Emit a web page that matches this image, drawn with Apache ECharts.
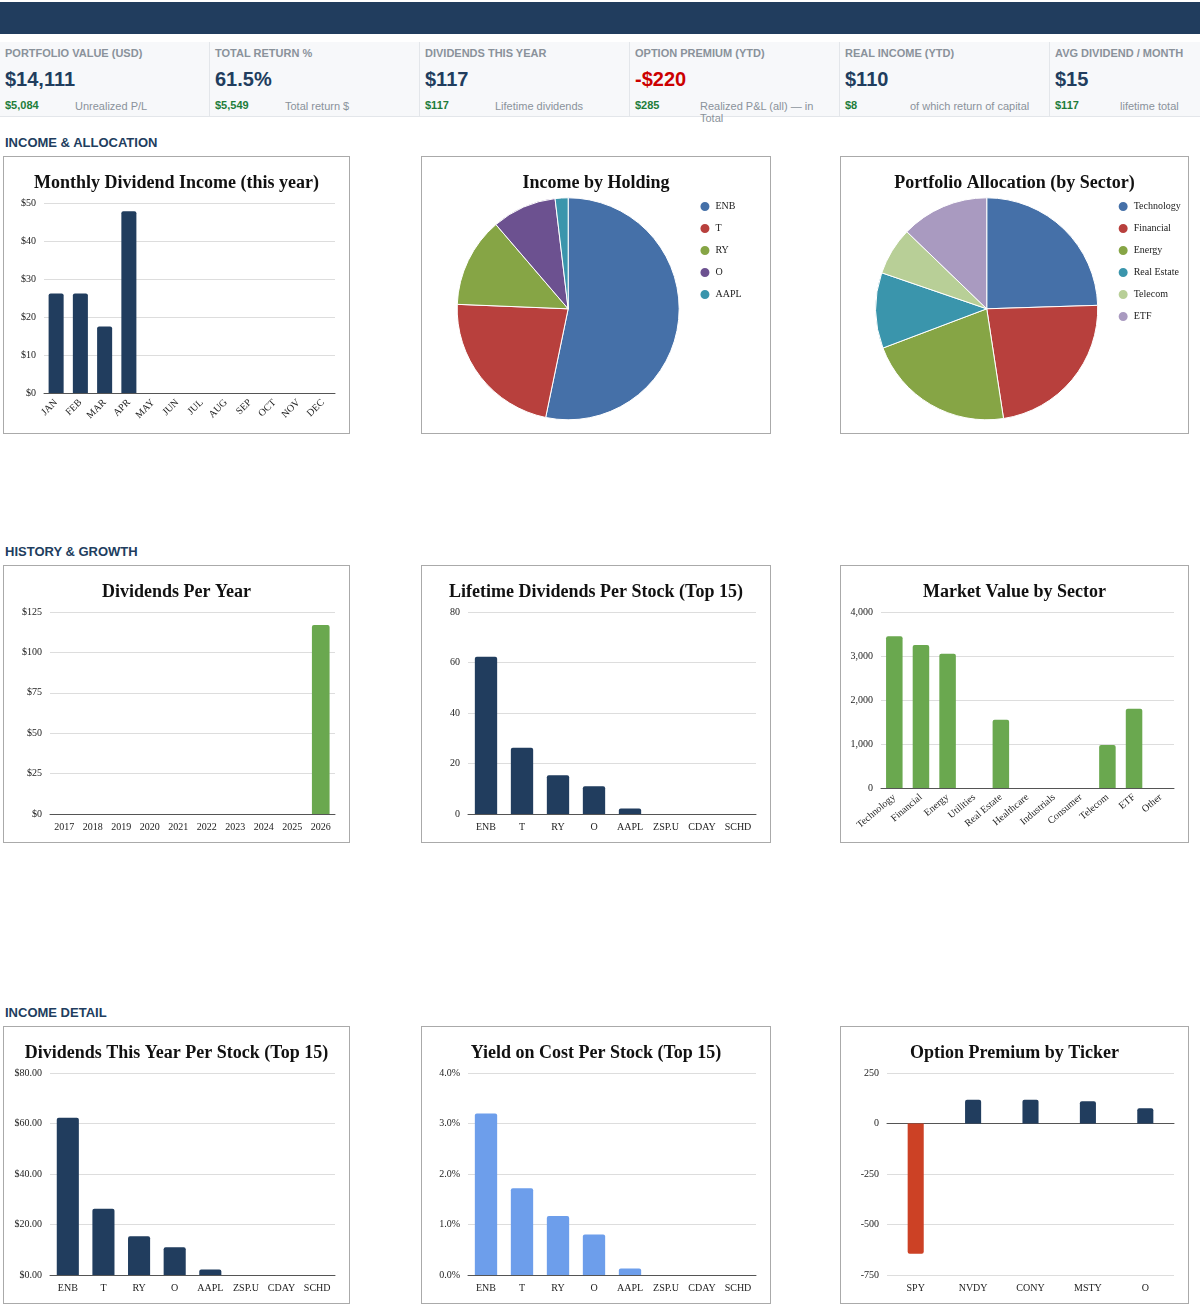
<!DOCTYPE html>
<html><head><meta charset="utf-8">
<script src="https://cdn.jsdelivr.net/npm/echarts@6/dist/echarts.min.js"></script>
<style>
body{margin:0;width:1200px;height:1314px;position:relative;background:#fff;font-family:"Liberation Sans",Arial,sans-serif;overflow:hidden}
.hdr{position:absolute;left:0;top:2px;width:1200px;height:32px;background:#213d5e}
.kpis{position:absolute;left:0;top:42px;width:1200px;height:74px;background:#f7f8fa;border-bottom:1px solid #e3e6ea}
.kpi{position:absolute;top:0;height:74px;width:209px;border-right:1px solid #e3e6ea}
.kpi .l{position:absolute;left:5px;top:5px;font-size:11px;color:#8a929b;font-weight:bold}
.kpi .v{position:absolute;left:5px;top:26px;font-size:20px;font-weight:bold;color:#213d5e}
.kpi .s{position:absolute;left:5px;top:57px;font-size:11px;font-weight:bold;color:#1e7d3a}
.kpi .n{position:absolute;top:58px;font-size:11px;color:#8a929b}
.sec{position:absolute;left:5px;font-size:13px;font-weight:bold;color:#213d5e}
.box{position:absolute;border:1px solid #aaa;box-sizing:border-box}
</style></head><body>
<div class="hdr"></div>
<div class="kpis" id="kpis"></div>
<div class="sec" style="top:135px">INCOME &amp; ALLOCATION</div>
<div class="sec" style="top:544px">HISTORY &amp; GROWTH</div>
<div class="sec" style="top:1005px">INCOME DETAIL</div>
<div id="c0" class="box" style="left:3px;top:156px;width:347px;height:278px"></div>
<div id="c1" class="box" style="left:421px;top:156px;width:350px;height:278px"></div>
<div id="c2" class="box" style="left:840px;top:156px;width:349px;height:278px"></div>
<div id="c3" class="box" style="left:3px;top:565px;width:347px;height:278px"></div>
<div id="c4" class="box" style="left:421px;top:565px;width:350px;height:278px"></div>
<div id="c5" class="box" style="left:840px;top:565px;width:349px;height:278px"></div>
<div id="c6" class="box" style="left:3px;top:1026px;width:347px;height:278px"></div>
<div id="c7" class="box" style="left:421px;top:1026px;width:350px;height:278px"></div>
<div id="c8" class="box" style="left:840px;top:1026px;width:349px;height:278px"></div>
<script>
// KPI cards
const kpiLabels = ['PORTFOLIO VALUE (USD)', 'TOTAL RETURN %', 'DIVIDENDS THIS YEAR', 'OPTION PREMIUM (YTD)', 'REAL INCOME (YTD)', 'AVG DIVIDEND / MONTH'];
const kpiValues = ['$14,111', '61.5%', '$117', '-$220', '$110', '$15'];
const kpiSubs = ['$5,084', '$5,549', '$117', '$285', '$8', '$117'];
const kpiNotes = ['Unrealized P/L', 'Total return $', 'Lifetime dividends', 'Realized P&L (all) \u2014 in Total', 'of which return of capital', 'lifetime total'];
const kpiNoteX = [75, 75, 75, 70, 70, 70];

// chart data
const months = ['JAN','FEB','MAR','APR','MAY','JUN','JUL','AUG','SEP','OCT','NOV','DEC'];
const monthlyDiv = [26.2, 26.2, 17.5, 47.8, 0, 0, 0, 0, 0, 0, 0, 0];
const holdings = ['ENB', 'T', 'RY', 'O', 'AAPL'];
const holdingIncome = [62.3, 26.2, 15.3, 11.0, 2.2];
const sectors = ['Technology', 'Financial', 'Energy', 'Real Estate', 'Telecom', 'ETF'];
const sectorAlloc = [3450, 3250, 3050, 1550, 980, 1800];
const years = ['2017','2018','2019','2020','2021','2022','2023','2024','2025','2026'];
const divPerYear = [0, 0, 0, 0, 0, 0, 0, 0, 0, 117];
const stocks = ['ENB', 'T', 'RY', 'O', 'AAPL', 'ZSP.U', 'CDAY', 'SCHD'];
const lifetimeDiv = [62.3, 26.2, 15.3, 11.0, 2.2, 0, 0, 0];
const sectorCats = ['Technology','Financial','Energy','Utilities','Real Estate','Healthcare','Industrials','Consumer','Telecom','ETF','Other'];
const sectorValue = [3450, 3250, 3050, 0, 1550, 0, 0, 0, 980, 1800, 0];
const thisYearDiv = [62.3, 26.2, 15.3, 11.0, 2.2, 0, 0, 0];
const yieldOnCost = [3.2, 1.72, 1.17, 0.8, 0.13, 0, 0, 0];
const optTickers = ['SPY', 'NVDY', 'CONY', 'MSTY', 'O'];
const optPremium = [-645, 118, 118, 110, 75];

const k = document.getElementById('kpis');
kpiLabels.forEach((l, i) => {
  const d = document.createElement('div');
  d.className = 'kpi';
  d.style.left = (i * 210) + 'px';
  d.innerHTML = '<div class="l">' + l + '</div><div class="v"' + (i === 3 ? ' style="color:#cc0000"' : '') + '>' + kpiValues[i] +
    '</div><div class="s">' + kpiSubs[i] + '</div><div class="n" style="left:' + kpiNoteX[i] + 'px">' + kpiNotes[i].replace('&', '&amp;') + '</div>';
  k.appendChild(d);
});

const NAVY = '#213d5e';
const serif = '"Liberation Serif","DejaVu Serif",serif';
const title = t => ({text: t, left: 'center', top: 12, textStyle: {fontFamily: serif, fontSize: 18, fontWeight: 'bold', color: '#111'}});
const lbl = {fontFamily: serif, fontSize: 10, color: '#222'};
const split = {lineStyle: {color: '#ddd'}};

function bar(id, t, cats, vals, o) {
  o = o || {};
  echarts.init(document.getElementById(id)).setOption({
    animation: false,
    title: title(t),
    grid: Object.assign({left: 46, right: 14, top: 46, bottom: 28}, o.grid || {}),
    xAxis: {type: 'category', data: cats, axisTick: {show: false},
      axisLine: {lineStyle: {color: '#555'}},
      axisLabel: Object.assign({}, lbl, {interval: 0, rotate: o.rotate || 0})},
    yAxis: {type: 'value', min: o.min || 0, max: o.max, interval: o.interval, splitLine: split,
      axisLabel: Object.assign({}, lbl, {formatter: o.fmt})},
    series: [{type: 'bar', data: vals, barWidth: o.barWidth || '55%',
      itemStyle: {color: o.color || NAVY, borderRadius: [2, 2, 0, 0]}}]
  });
}

function pie(id, t, names, vals, colors) {
  echarts.init(document.getElementById(id)).setOption({
    animation: false,
    title: title(t),
    color: colors,
    legend: {orient: 'vertical', left: '78%', top: 38, itemGap: 9, icon: 'circle', itemWidth: 11, itemHeight: 11,
      textStyle: {fontFamily: serif, fontSize: 10, color: '#222'}},
    series: [{type: 'pie', radius: 111, center: ['42%', '55%'], label: {show: false},
      startAngle: 90, itemStyle: {borderColor: '#fff', borderWidth: 1},
      data: names.map((n, i) => ({name: n, value: vals[i]}))}]
  });
}

const pal = ['#4570a8', '#b8403d', '#86a545', '#6c5190', '#3a95ac'];
bar('c0', 'Monthly Dividend Income (this year)', months, monthlyDiv,
  {max: 50, interval: 10, rotate: 45, fmt: '${value}', grid: {left: 40, right: 14, bottom: 40}, barWidth: '62%'});
pie('c1', 'Income by Holding', holdings, holdingIncome, pal);
pie('c2', 'Portfolio Allocation (by Sector)', sectors, sectorAlloc, ['#4570a8', '#b8403d', '#86a545', '#3a95ac', '#b8cf97', '#a99ac0']);
bar('c3', 'Dividends Per Year', years, divPerYear,
  {max: 125, interval: 25, fmt: '${value}', color: '#6aa84f', barWidth: '62%'});
bar('c4', 'Lifetime Dividends Per Stock (Top 15)', stocks, lifetimeDiv,
  {max: 80, interval: 20, barWidth: '62%'});
bar('c5', 'Market Value by Sector', sectorCats, sectorValue,
  {max: 4000, interval: 1000, rotate: 40, color: '#6aa84f', grid: {left: 40, right: 14, bottom: 54}, barWidth: '62%'});
bar('c6', 'Dividends This Year Per Stock (Top 15)', stocks, thisYearDiv,
  {max: 80, interval: 20, fmt: v => '$' + v.toFixed(2), barWidth: '62%'});
bar('c7', 'Yield on Cost Per Stock (Top 15)', stocks, yieldOnCost,
  {max: 4, interval: 1, fmt: v => v.toFixed(1) + '%', color: '#6d9eeb', barWidth: '62%'});
echarts.init(document.getElementById('c8')).setOption({
  animation: false,
  title: title('Option Premium by Ticker'),
  grid: {left: 46, right: 14, top: 46, bottom: 28},
  xAxis: {type: 'category', data: optTickers, axisTick: {show: false}, position: 'bottom',
    axisLine: {onZero: true, lineStyle: {color: '#555'}}, axisLabel: Object.assign({}, lbl, {interval: 0}),
    offset: 0},
  yAxis: {type: 'value', min: -750, max: 250, interval: 250, splitLine: split, axisLabel: lbl},
  series: [{type: 'bar', barWidth: '28%',
    data: optPremium.map(v => ({value: v, itemStyle: {color: v < 0 ? '#cc4125' : NAVY, borderRadius: v < 0 ? [0, 0, 2, 2] : [2, 2, 0, 0]}}))}]
});
</script>
</body></html>
